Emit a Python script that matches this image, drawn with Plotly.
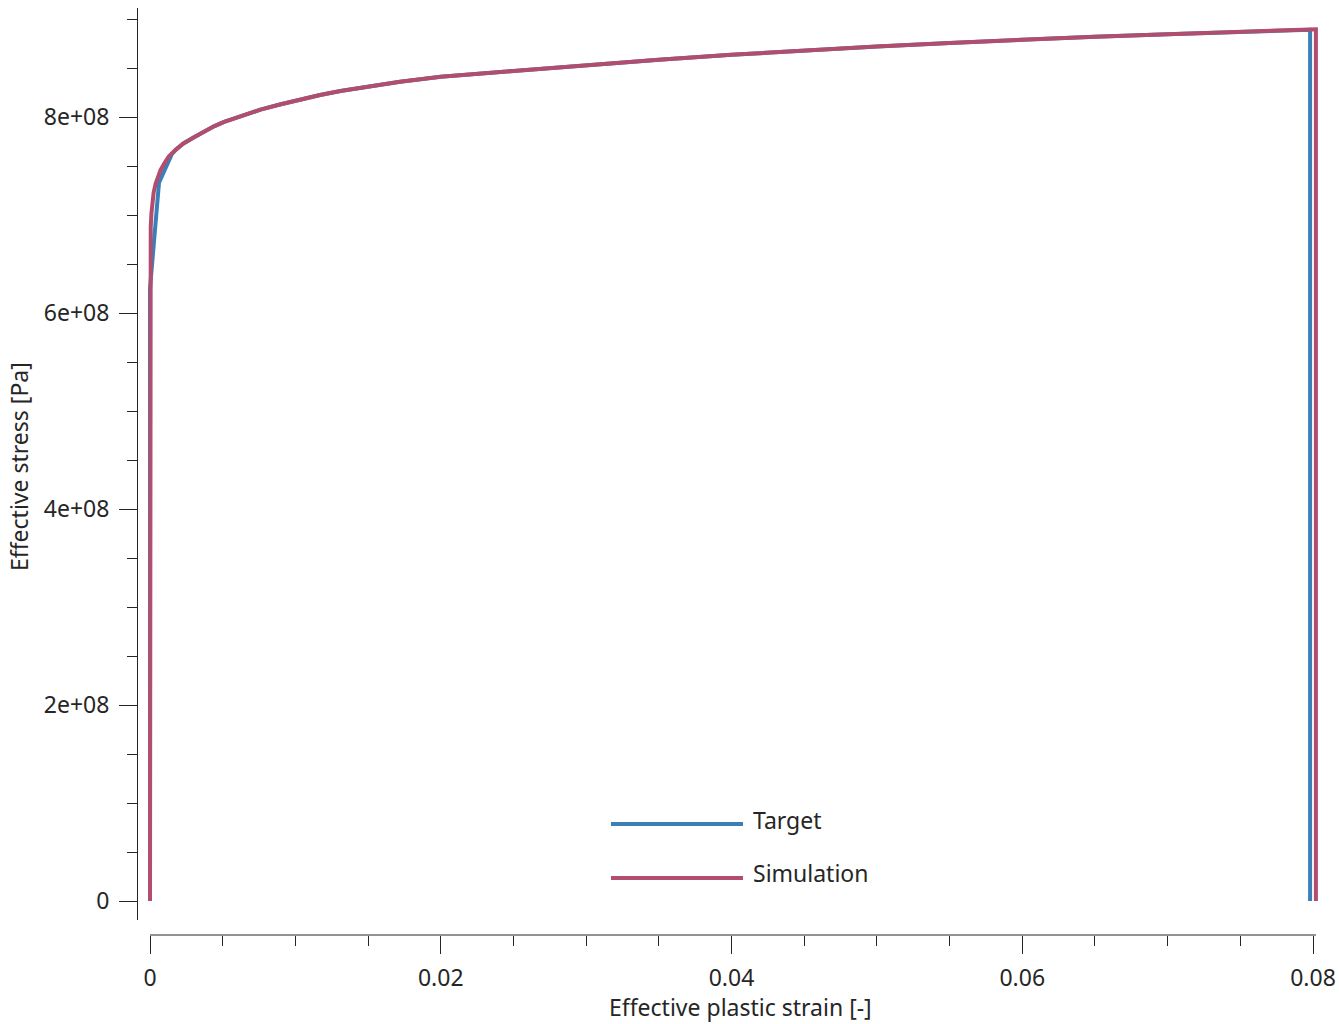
import plotly.graph_objects as go

# ---------------- data ----------------
sim_strain = [0.0, 0.0, 0.00002, 0.00005, 0.0001, 0.00016, 0.00025, 0.00039, 0.00055, 0.00073,
              0.001, 0.0013, 0.0018, 0.0023, 0.003, 0.0037, 0.0044, 0.0051, 0.0063, 0.0076,
              0.009, 0.0103, 0.0117, 0.0131, 0.0145, 0.0158, 0.0172, 0.0186, 0.02, 0.025,
              0.03, 0.035, 0.04, 0.045, 0.05, 0.055, 0.06, 0.065, 0.07, 0.075,
              0.08, 0.0802, 0.0802]
sim_stress = [0.0, 6.23e8, 6.55e8, 6.88e8, 7.02e8, 7.12e8, 7.23e8, 7.32e8, 7.40e8, 7.46e8,
              7.53e8, 7.60e8, 7.67e8, 7.73e8, 7.79e8, 7.85e8, 7.905e8, 7.95e8, 8.015e8, 8.075e8,
              8.13e8, 8.18e8, 8.225e8, 8.265e8, 8.30e8, 8.33e8, 8.36e8, 8.385e8, 8.41e8, 8.47e8,
              8.53e8, 8.585e8, 8.635e8, 8.68e8, 8.72e8, 8.755e8, 8.79e8, 8.82e8, 8.845e8, 8.87e8,
              8.895e8, 8.895e8, 0.0]

target_strain = [0.0, 0.0, 0.00062, 0.0015, 0.0018, 0.0023, 0.003, 0.0037, 0.0044, 0.0051,
                 0.0063, 0.0076, 0.009, 0.0103, 0.0117, 0.0131, 0.0145, 0.0158, 0.0172, 0.0186,
                 0.02, 0.025, 0.03, 0.035, 0.04, 0.045, 0.05, 0.055, 0.06, 0.065,
                 0.07, 0.075, 0.0798, 0.0798]
target_stress = [0.0, 6.25e8, 7.33e8, 7.62e8, 7.67e8, 7.73e8, 7.79e8, 7.85e8, 7.905e8, 7.95e8,
                 8.015e8, 8.075e8, 8.13e8, 8.18e8, 8.225e8, 8.265e8, 8.30e8, 8.33e8, 8.36e8, 8.385e8,
                 8.41e8, 8.47e8, 8.53e8, 8.585e8, 8.635e8, 8.68e8, 8.72e8, 8.755e8, 8.79e8, 8.82e8,
                 8.845e8, 8.87e8, 8.89e8, 0.0]

x_tick_vals = [0, 0.02, 0.04, 0.06, 0.08]
x_tick_text = ["0", "0.02", "0.04", "0.06", "0.08"]
y_tick_vals = [0, 2e8, 4e8, 6e8, 8e8]
y_tick_text = ["0", "2e+08", "4e+08", "6e+08", "8e+08"]
x_axis_span = [0, 0.0802]

x_title = "Effective plastic strain [-]"
y_title = "Effective stress [Pa]"
series_names = ["Target", "Simulation"]
series_colors = ["#3a7fb8", "#b24d6e"]

# ---------------- layout geometry (screen px) ----------------
W, H = 1339, 1024
PLOT_L, PLOT_R, PLOT_T, PLOT_B = 137, 1320, 8, 935   # paper area in px
ML = PLOT_L
MT = PLOT_T
MR = W - PLOT_R
MB = H - PLOT_B
PW = PLOT_R - PLOT_L
PH = PLOT_B - PLOT_T


def px_x(p):
    return (p - PLOT_L) / PW


def px_y(p):
    return (PLOT_B - p) / PH


FONT = "Noto Sans"
TXT = "#262626"
FS = 23

fig = go.Figure()
fig.add_trace(go.Scatter(x=target_strain, y=target_stress, mode="lines",
                         name=series_names[0], line=dict(color=series_colors[0], width=4),
                         showlegend=False, cliponaxis=False))
fig.add_trace(go.Scatter(x=sim_strain, y=sim_stress, mode="lines",
                         name=series_names[1], line=dict(color=series_colors[1], width=4),
                         showlegend=False, cliponaxis=False))

x_px_per_unit = (1313 - 150) / 0.08
y_px_per_unit = (901 - 117) / 8e8
X_DOM_L = 145   # a few px left of strain 0 so the vertical line at 0 is not clipped

fig.update_layout(
    width=W, height=H, autosize=False,
    margin=dict(l=ML, r=MR, t=MT, b=MB, pad=0, autoexpand=False),
    paper_bgcolor="white", plot_bgcolor="white",
    font=dict(family=FONT, size=FS, color=TXT),
    xaxis=dict(
        domain=[px_x(X_DOM_L), 1],
        range=[(X_DOM_L - 150) / x_px_per_unit, (PLOT_R - 150) / x_px_per_unit],
        anchor="free", position=0,
        showline=False,
        showgrid=False, zeroline=False,
        tickmode="array", tickvals=x_tick_vals, ticktext=x_tick_text,
        ticks="outside", ticklen=18, tickwidth=1, tickcolor=TXT,
        ticklabelstandoff=4,
        minor=dict(dtick=0.005, tick0=0, ticks="outside", ticklen=10, tickwidth=1,
                   tickcolor=TXT, showgrid=False),
        tickfont=dict(family=FONT, size=FS, color=TXT),
    ),
    yaxis=dict(
        domain=[px_y(920), 1],
        range=[(901 - 920) / y_px_per_unit, (901 - PLOT_T) / y_px_per_unit],
        anchor="free", position=0,
        showline=True, linecolor=TXT, linewidth=1,
        showgrid=False, zeroline=False,
        tickmode="array", tickvals=y_tick_vals, ticktext=y_tick_text,
        ticks="outside", ticklen=18, tickwidth=1, tickcolor=TXT,
        ticklabelstandoff=5,
        minor=dict(dtick=0.5e8, tick0=0, ticks="outside", ticklen=10, tickwidth=1,
                   tickcolor=TXT, showgrid=False),
        tickfont=dict(family=FONT, size=FS, color=TXT),
    ),
)

# x-axis baseline, spanning only the strain range (detached axis look)
fig.add_shape(type="line", xref="x", yref="paper",
              x0=x_axis_span[0], x1=x_axis_span[1], y0=0, y1=0,
              line=dict(color=TXT, width=1))

# axis titles
fig.add_annotation(xref="paper", yref="paper", x=px_x(740), y=px_y(1007),
                   text=x_title, showarrow=False, xanchor="center", yanchor="middle",
                   borderpad=0, font=dict(family=FONT, size=FS, color=TXT))
fig.add_annotation(xref="paper", yref="paper", x=px_x(19), y=px_y(467),
                   text=y_title, textangle=-90, showarrow=False,
                   xanchor="center", yanchor="middle",
                   font=dict(family=FONT, size=FS, color=TXT))

# custom legend (long line samples)
legend_rows = [(824, 820), (878, 873)]
for (ly, ty), name, col in zip(legend_rows, series_names, series_colors):
    fig.add_shape(type="line", xref="paper", yref="paper",
                  x0=px_x(611), x1=px_x(743), y0=px_y(ly), y1=px_y(ly),
                  line=dict(color=col, width=4))
    fig.add_annotation(xref="paper", yref="paper", x=px_x(751), y=px_y(ty),
                       text=name, showarrow=False, xanchor="left", yanchor="middle",
                       font=dict(family=FONT, size=FS, color=TXT))

fig.write_html("out.html", config={"displayModeBar": False, "responsive": False},
               post_script="document.body.style.margin='0';")
